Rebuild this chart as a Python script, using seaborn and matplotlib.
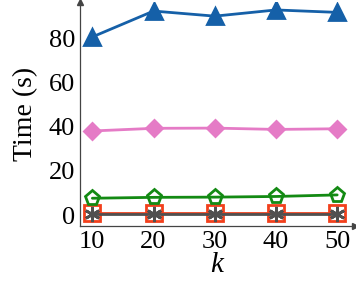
import pandas as pd
import matplotlib.pyplot as plt
import seaborn as sns

sns.set_style("white")
plt.rcParams['font.family'] = 'serif'
plt.rcParams['font.serif'] = ['Liberation Serif', 'DejaVu Serif']
plt.rcParams['mathtext.fontset'] = 'custom'
plt.rcParams['mathtext.it'] = 'Liberation Serif:italic'
plt.rcParams['mathtext.rm'] = 'Liberation Serif'
plt.rcParams['text.color'] = 'black'
plt.rcParams['axes.labelcolor'] = 'black'
plt.rcParams['xtick.labelcolor'] = 'black'
plt.rcParams['ytick.labelcolor'] = 'black'

k_values = [10, 20, 30, 40, 50]
blue_tri = [80.5, 92.2, 89.9, 92.7, 91.6]
pink_diamond = [38.0, 39.2, 39.3, 38.7, 39.0]
green_pent = [7.6, 8.0, 8.1, 8.4, 9.1]
red_square = [1.0, 1.0, 1.0, 1.0, 1.0]
grey_star = [0.6, 0.6, 0.6, 0.6, 0.6]

fig = plt.figure(figsize=(3.56, 2.83), dpi=100)
ax = fig.add_axes([0.225, 0.201, 0.772, 0.792])

series = [
    (red_square, '#f2401c', 's', 'none', 11),
    (grey_star, '#505050', (6, 2, 0), '#505050', 11),
    (green_pent, '#138a13', 'p', 'none', 11),
    (pink_diamond, '#e57bc6', 'D', '#e57bc6', 8.5),
    (blue_tri, '#1560a8', '^', '#1560a8', 11),
]
for vals, color, marker, face, size in series:
    df = pd.DataFrame({'k': k_values, 'time': vals})
    sns.lineplot(data=df, x='k', y='time', ax=ax, color=color, marker=marker,
                 markersize=size, markerfacecolor=face, markeredgecolor=color,
                 markeredgewidth=2, linewidth=2)

ax.set_xlim(8.0, 52.9)
ax.set_ylim(-5, 96.3)
ax.set_xticks(k_values)
ax.set_yticks([0, 20, 40, 60, 80])
ax.set_xlabel('$k$', fontsize=21, labelpad=-1)
ax.set_ylabel('Time (s)', fontsize=20, labelpad=8)
ax.tick_params(labelsize=19, direction='inout', length=5, width=0.8, color='#999999', pad=1)
for side in ['top', 'right']:
    ax.spines[side].set_visible(False)
for side in ['left', 'bottom']:
    ax.spines[side].set_color('#444444')
    ax.spines[side].set_linewidth(0.9)
ax.plot(1, 0, '>', color='#444444', markersize=4, transform=ax.transAxes, clip_on=False)
ax.plot(0, 1, '^', color='#444444', markersize=4, transform=ax.transAxes, clip_on=False)

fig.savefig('out.png', dpi=100)
